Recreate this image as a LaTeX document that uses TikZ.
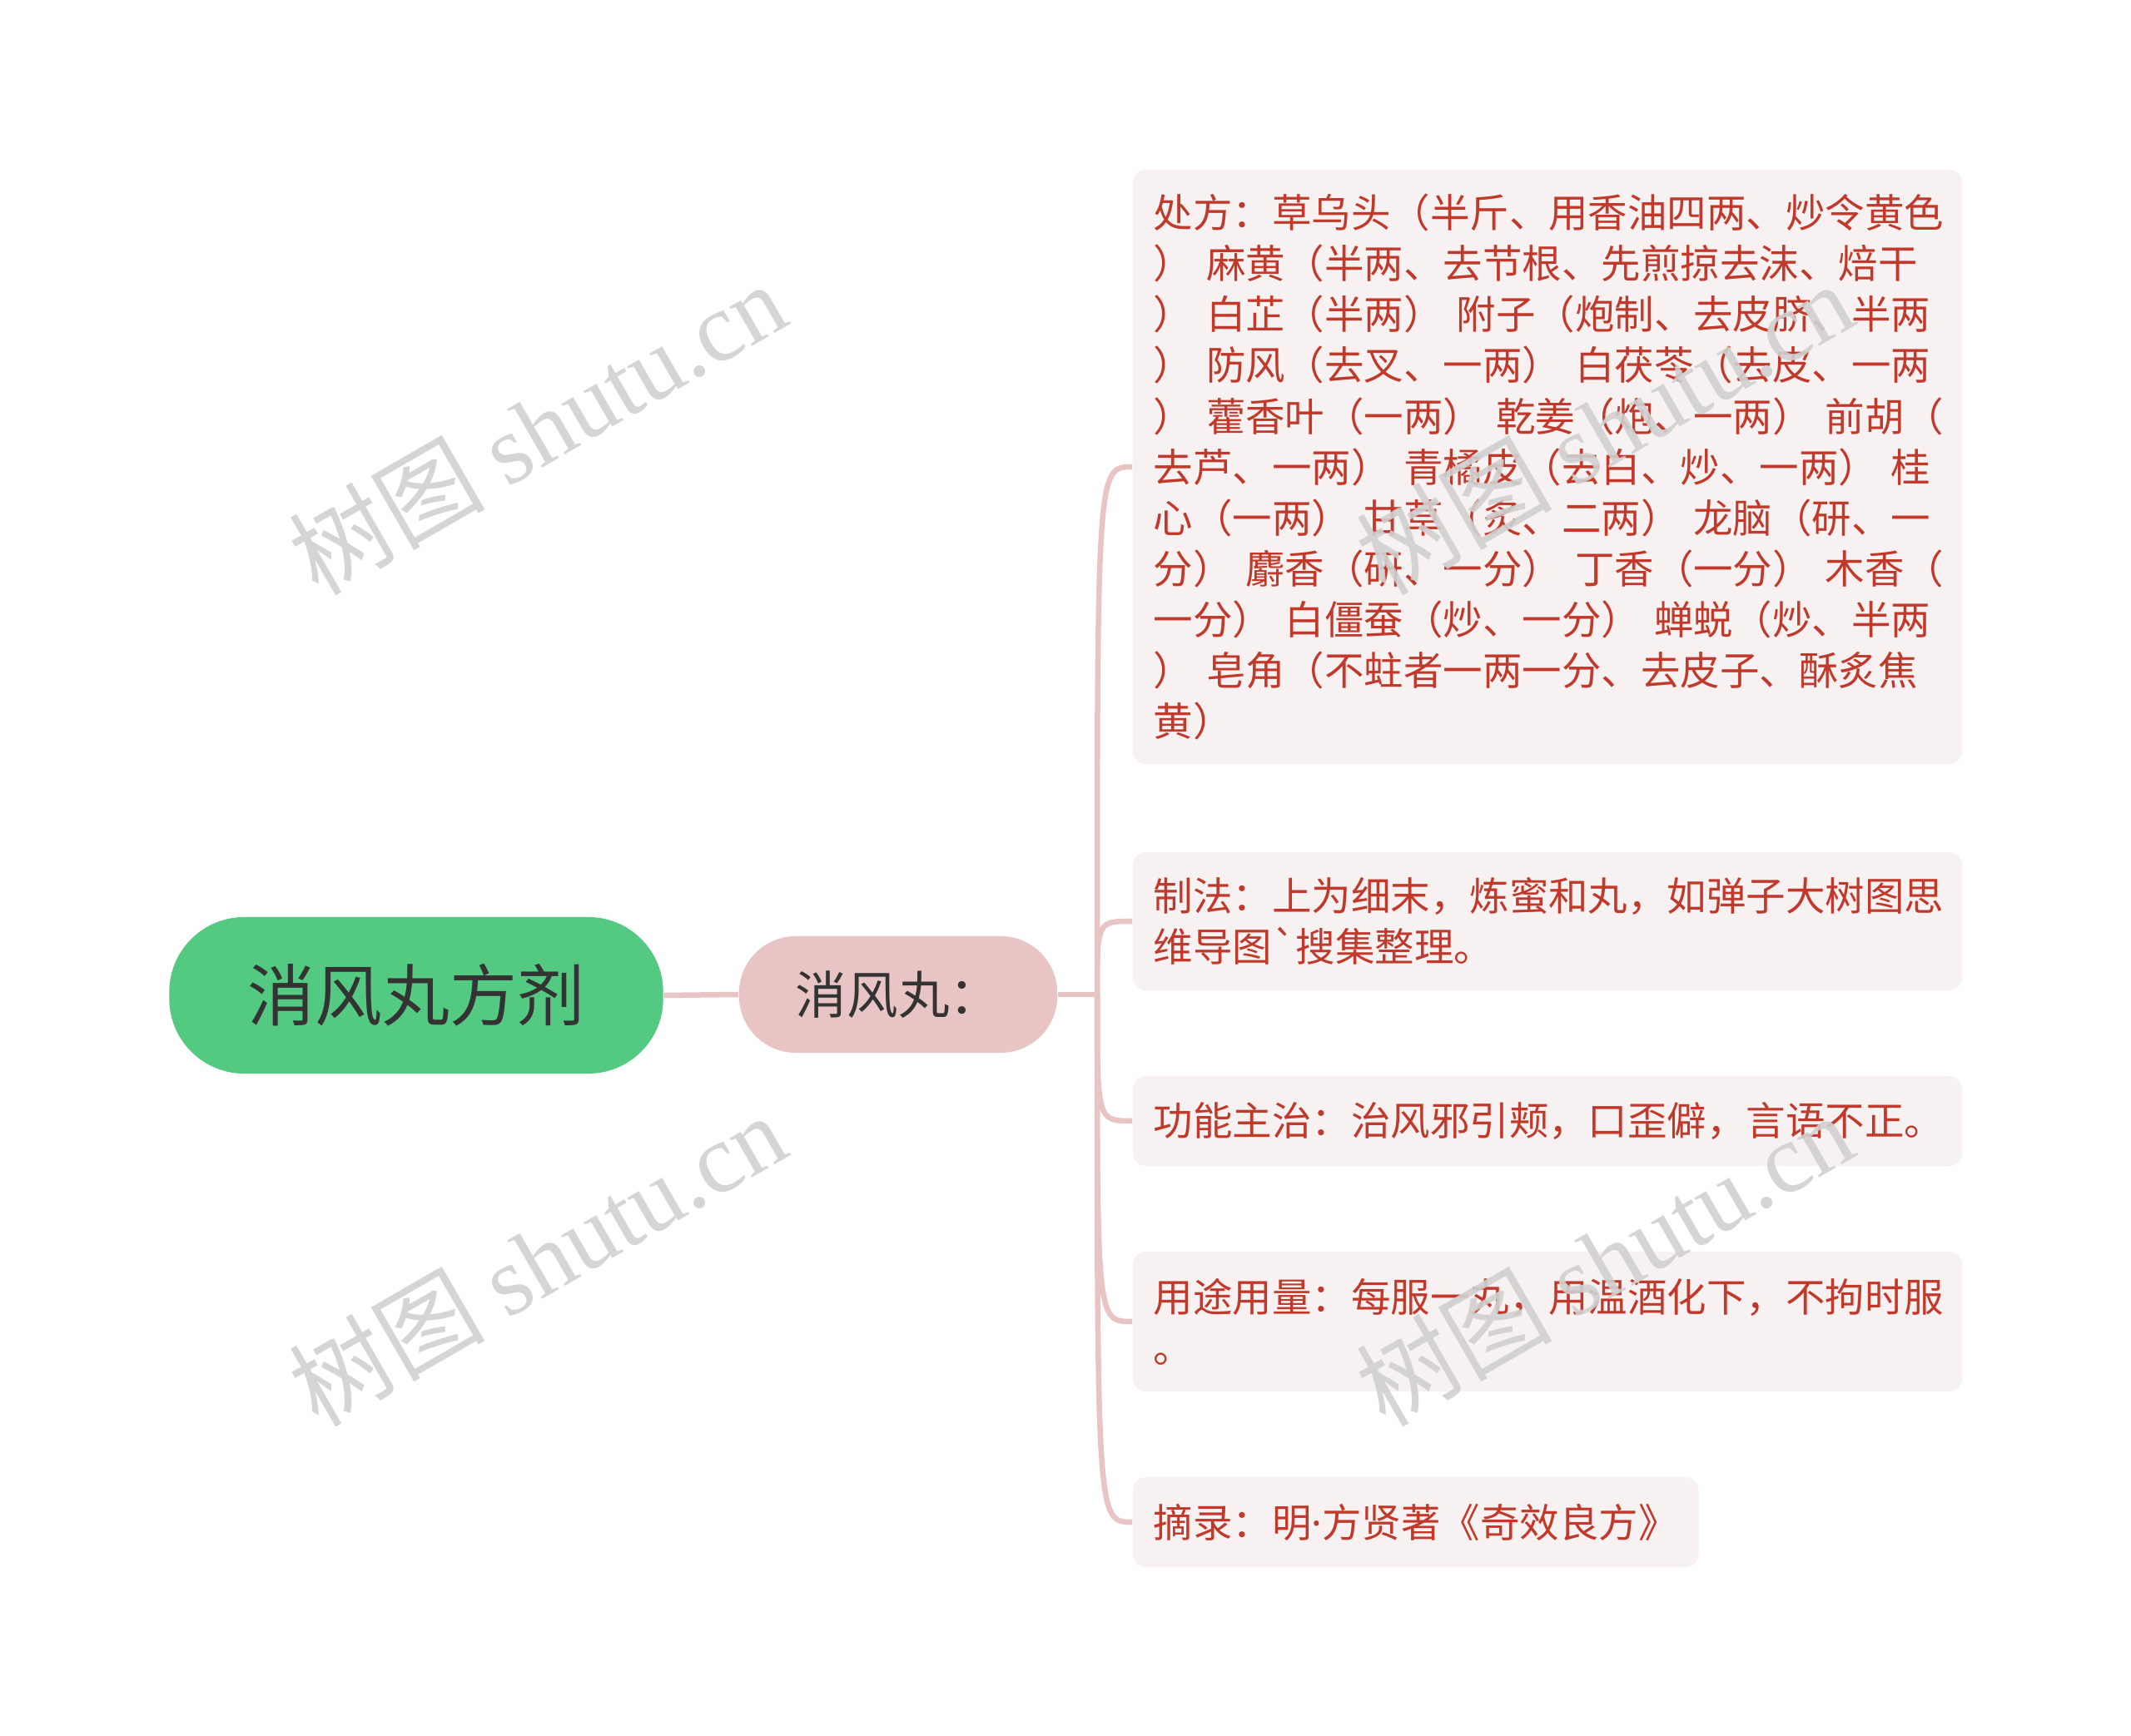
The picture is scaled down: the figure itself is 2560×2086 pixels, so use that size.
\documentclass[tikz,border=0pt]{standalone}
\usepackage{
	fontspec,			% Fonts
	xcolor				% Colours
}
\newfontfamily\cjk{Noto Sans CJK SC}
\newfontfamily\latin{Noto Sans}
\newfontfamily\wmlatin{Liberation Serif}
\definecolor{rootgreen}{HTML}{53C982}
\definecolor{subpink}{HTML}{E8C4C4}
\definecolor{leafbg}{HTML}{F8F1F1}
\definecolor{leafred}{HTML}{C0392B}
\definecolor{linkpink}{HTML}{E8C4C4}
\definecolor{wmgray}{HTML}{D0D0D0}

\begin{document}
\begin{tikzpicture}[x=0.01cm,y=-0.01cm,
		link/.style={draw=linkpink, line width=0.065cm},
		leaf/.style={fill=leafbg, rounded corners=0.16cm, text=leafred, anchor=west,
			align=left, inner xsep=0.25cm, font=\cjk\fontsize{13.5}{17.35}\selectfont},
		wide/.style={text width=9.46cm},
		wmark/.style={rotate=30, text=wmgray, text opacity=0.9, font=\cjk\fontsize{33.5}{40}\selectfont}]
		\useasboundingbox (0,0) rectangle (2560,2086);
		\node[fill=rootgreen, rounded corners=0.9cm, minimum width=5.93cm, minimum height=1.88cm,
			text=black!80, font=\cjk\fontsize{23}{28}\selectfont] (fangji) at (500,1196) {消风丸方剂};
		\node[fill=subpink, rounded corners=0.68cm, minimum width=3.82cm, minimum height=1.40cm,
			text=black!80, font=\cjk\fontsize{17.5}{21}\selectfont] (wan) at (1079,1195) {消风丸：};
		\node[leaf, wide, minimum height=7.14cm] (chufang) at (1360,561) {处方：草乌头（半斤、用香油四两、炒令黄色\\
			）~麻黄（半两、去节根、先煎掠去沫、焙干\\
			）~白芷（半两）~附子（炮制、去皮脐、半两\\
			）~防风（去叉、一两）~白茯苓（去皮、一两\\
			）~藿香叶（一两）~乾姜（炮、一两）~前胡（\\
			去芦、一两）~青橘皮（去白、炒、一两）~桂\\
			心（一两）~甘草（炙、二两）~龙脑（研、一\\
			分）~麝香（研、一分）~丁香（一分）~木香（\\
			一分）~白僵蚕（炒、一分）~蝉蜕（炒、半两\\
			）~皂角（不蛀者一两一分、去皮子、酥炙焦\\
			黄）};
		\node[leaf, wide, minimum height=1.66cm] (zhifa) at (1360,1107) {制法：上为细末，炼蜜和丸，如弹子大树图思\\
			维导图`搜集整理。};
		\node[leaf, wide, minimum height=1.08cm] (gongneng) at (1360,1347) {功能主治：治风邪引颊，口歪僻，言语不正。};
		\node[leaf, wide, minimum height=1.68cm] (yongliang) at (1360,1588) {用途用量：每服一丸，用温酒化下，不拘时服\\
			。};
		\node[leaf, minimum height=1.08cm] (zhailu) at (1360,1829) {摘录：明{\latin ·}方贤著《奇效良方》};
		% branches
		\coordinate (j) at (1318,1195);
		\draw[link] (fangji.east) -- (wan.west);
		\draw[link] (wan.east) -- (j);
		\foreach \n in {chufang,zhifa,gongneng,yongliang,zhailu}
			\draw[link] (j) .. controls (j |- \n.west) .. (\n.west);
		% watermark
		\foreach \x/\y/\i in {645/514/1, 1927/514/2, 645/1513/3, 1927/1513/4}
			\node[wmark] (wm\i) at (\x,\y) {树图 {\wmlatin shutu.cn}};
	\end{tikzpicture}
\end{document}
